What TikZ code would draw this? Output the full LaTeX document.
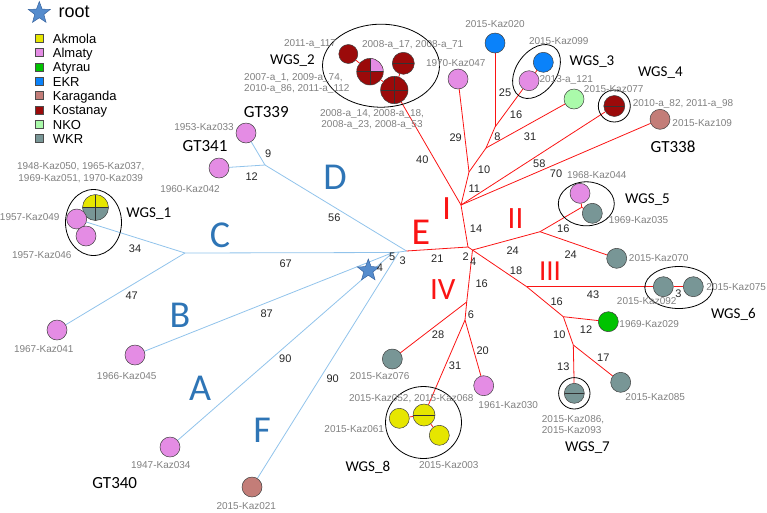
\documentclass[tikz,border=0pt]{standalone}
\usepackage{fontspec}
\setmainfont{Liberation Sans}
\newfontfamily\carl{Carlito}
\usetikzlibrary{shapes.geometric}
\pgfdeclarelayer{bg}
\pgfsetlayers{bg,main}
\definecolor{cAkm}{RGB}{230,230,0}
\definecolor{cAlm}{RGB}{228,140,228}
\definecolor{cAty}{RGB}{0,195,0}
\definecolor{cEkr}{RGB}{10,130,250}
\definecolor{cKar}{RGB}{195,125,120}
\definecolor{cKos}{RGB}{155,10,10}
\definecolor{cNko}{RGB}{170,250,170}
\definecolor{cWkr}{RGB}{120,150,150}
\definecolor{bline}{RGB}{145,195,235}
\definecolor{rline}{RGB}{250,20,20}
\definecolor{bigblue}{RGB}{46,117,182}
\definecolor{lblgray}{RGB}{128,128,128}
\definecolor{starfill}{RGB}{85,140,205}
\definecolor{stardraw}{RGB}{55,100,160}
\begin{document}
\begin{tikzpicture}[x=1pt,y=-1pt,
 nd/.style={circle,draw=black!75,line width=0.5pt,minimum size=20pt,inner sep=0pt},
 akm/.style={nd,fill=cAkm}, alm/.style={nd,fill=cAlm}, aty/.style={nd,fill=cAty},
 ekr/.style={nd,fill=cEkr}, kar/.style={nd,fill=cKar}, kos/.style={nd,fill=cKos},
 nko/.style={nd,fill=cNko}, wkr/.style={nd,fill=cWkr},
 hsplit/.style={path picture={\draw[black!80,line width=0.5pt] (path picture bounding box.west) -- (path picture bounding box.east);}},
 crossq/.style={path picture={\draw[black!80,line width=0.5pt] (path picture bounding box.west) -- (path picture bounding box.east) (path picture bounding box.north) -- (path picture bounding box.south);}},
 pinkq/.style={path picture={\fill[cAlm] (path picture bounding box.center) rectangle (path picture bounding box.north east);
   \draw[black!80,line width=0.5pt] (path picture bounding box.west) -- (path picture bounding box.east) (path picture bounding box.north) -- (path picture bounding box.south);}},
 yellowtop/.style={path picture={\fill[cAkm] (path picture bounding box.west) rectangle (path picture bounding box.north east);
   \draw[black!80,line width=0.5pt] (path picture bounding box.west) -- (path picture bounding box.east) (path picture bounding box.north) -- (path picture bounding box.south);}},
 ring/.style={circle,draw=black,line width=0.8pt,inner sep=0pt},
 grpell/.style={ellipse,draw=black,line width=0.8pt,inner sep=0pt},
 bl/.style={draw=bline,line width=0.8pt},
 rl/.style={draw=rline,line width=0.8pt},
 lbl/.style={text=lblgray,font=\fontsize{10}{11.7}\selectfont,inner sep=0pt,anchor=base,yshift=-3.6pt},
 lblm/.style={text=lblgray,font=\fontsize{10}{11.3}\selectfont,inner sep=0pt,align=center},
 el/.style={text=black!85,font=\fontsize{11}{11}\selectfont,inner sep=0pt},
 grp/.style={font=\carl\fontsize{15}{15}\selectfont,inner sep=0pt,anchor=base,yshift=-4.8pt},
 gt/.style={font=\carl\fontsize{17}{17}\selectfont,inner sep=0pt},
 bb/.style={font=\carl\fontsize{38}{38}\selectfont,text=bigblue,inner sep=0pt},
 br/.style={font=\carl\fontsize{34}{34}\selectfont,text=rline,inner sep=0pt},
 sq/.style={rectangle,draw=black!70,line width=0.5pt,minimum size=8pt,inner sep=0pt},
 lg/.style={font=\fontsize{13}{13}\selectfont,anchor=base west,inner sep=0pt,yshift=-4.7pt},
 rootstar/.style={star,star points=5,star point ratio=2.4,fill=starfill,draw=stardraw,line width=0.5pt,minimum size=23pt,inner sep=0pt}
]
\useasboundingbox (0,0) rectangle (767,512);
% ---------- legend ----------
\node[rootstar] (lstar) at (39.3,13) {};
\node[font=\fontsize{18}{18}\selectfont,anchor=base west,inner sep=0pt] (lroot) at (58.5,17) {root};
\node[sq,fill=cAkm] (sq1) at (39,38.3) {}; \node[lg] (lg1) at (52.7,38.3) {Akmola};
\node[sq,fill=cAlm] (sq2) at (39,52.7) {}; \node[lg] (lg2) at (52.7,52.7) {Almaty};
\node[sq,fill=cAty] (sq3) at (39,67) {};   \node[lg] (lg3) at (52.7,67) {Atyrau};
\node[sq,fill=cEkr] (sq4) at (39,81.3) {}; \node[lg] (lg4) at (52.7,81.3) {EKR};
\node[sq,fill=cKar] (sq5) at (39,95.7) {}; \node[lg] (lg5) at (52.7,95.7) {Karaganda};
\node[sq,fill=cKos] (sq6) at (39,110) {};  \node[lg] (lg6) at (52.7,110) {Kostanay};
\node[sq,fill=cNko] (sq7) at (39,124.3) {};\node[lg] (lg7) at (52.7,124.3) {NKO};
\node[sq,fill=cWkr] (sq8) at (39,138.6) {};\node[lg] (lg8) at (52.7,138.6) {WKR};
% ---------- branch points ----------
\coordinate (cD) at (265,165);
\coordinate (cC) at (185,253);
\coordinate (H) at (406.5,251);
\coordinate (Q) at (393,252.5);
\coordinate (Q2) at (399,252);
\coordinate (R1) at (468,247);
\coordinate (R2) at (472.5,250);
\coordinate (cI) at (461,205);
\coordinate (P11) at (469,172);
\coordinate (P10) at (486,148);
\coordinate (P8) at (495,127);
\coordinate (PII) at (540,231.7);
\coordinate (J5) at (581.7,207.3);
\coordinate (PIII) at (526.7,286.7);
\coordinate (P16) at (563.3,316.7);
\coordinate (P10b) at (573.3,345);
\coordinate (PIV) at (466.7,302);
\coordinate (P6) at (465,320);
% ---------- blue side nodes ----------
\node[alm] (n1947) at (170,447) {};
\node[kar] (n021) at (252,487) {};
\node[alm] (n1966) at (135,355) {};
\node[alm] (n1967) at (57,330) {};
\node[alm] (n1953) at (246,133) {};
\node[alm] (n1960) at (219,168) {};
\node[nd,fill=cWkr,yellowtop,minimum size=26pt] (nyg) at (95.5,207.5) {};
\node[alm] (n049) at (76.7,219) {};
\node[alm] (n046) at (86,236) {};
\node[grpell,minimum width=56pt,minimum height=66pt] (g1) at (93.5,222.5) {};
\node[rootstar] (root) at (368.3,270.5) {};
% ---------- WGS_2 ----------
\node[kos,minimum size=19pt] (a117) at (348.3,54) {};
\node[kos,pinkq,minimum size=26.6pt] (cr) at (370,71.7) {};
\node[kos,hsplit,minimum size=22pt] (a17) at (403.3,63.3) {};
\node[kos,crossq,minimum size=27.4pt] (a14) at (394.3,90) {};
\node[grpell,minimum width=117pt,minimum height=83pt] (g2) at (381,65.7) {};
% ---------- I cluster ----------
\node[alm] (n047) at (458,79) {};
\node[ekr] (n020) at (495,43) {};
\node[ekr] (n099) at (543.3,62.3) {};
\node[alm] (n121) at (529,80.7) {};
\node[grpell,minimum width=60pt,minimum height=40pt,rotate=54] (g3) at (536.5,71.5) {};
\node[nko] (n077) at (574,99) {};
\node[kos,hsplit,minimum size=21pt] (w4) at (614.3,106) {};
\node[ring,minimum size=32pt] (g4) at (614.3,106) {};
\node[kar] (n109) at (660,119.3) {};
% ---------- II ----------
\node[alm] (n044) at (580,193.3) {};
\node[wkr] (n035) at (592.3,213.3) {};
\node[grpell,minimum width=56pt,minimum height=44pt] (g5) at (586.3,203.8) {};
\node[wkr] (n070) at (616.7,258.3) {};
% ---------- III ----------
\node[wkr] (n092) at (663.3,286.7) {};
\node[wkr] (n075) at (693.3,286.7) {};
\node[grpell,minimum width=68pt,minimum height=42pt] (g6) at (678.8,287.5) {};
\node[aty] (n029) at (608.3,321.7) {};
\node[wkr,hsplit] (w7) at (574.3,393.3) {};
\node[ring,minimum size=31.4pt] (g7) at (574.3,393.3) {};
\node[wkr] (n085) at (620.7,382.3) {};
% ---------- IV ----------
\node[wkr] (n076) at (392.3,359) {};
\node[alm] (n030) at (483.7,385.7) {};
\node[akm] (n061) at (399.3,418.3) {};
\node[akm,hsplit,minimum size=22pt] (w8s) at (424,415) {};
\node[akm] (n003) at (439.3,435.3) {};
\node[grpell,minimum width=76pt,minimum height=72pt] (g8) at (423.5,422.5) {};
% ---------- connectors ----------
\begin{pgfonlayer}{bg}
\draw[bl] (cC) -- (n049);
\draw[bl] (cC) -- (n1967);
\draw[bl] (cC) -- (Q);
\draw[bl] (n1966) -- (Q);
\draw[bl] (n1947) -- (Q);
\draw[bl] (n021) -- (Q2);
\draw[bl] (Q) -- (Q2) -- (H);
\draw[bl] (cD) -- (H);
\draw[bl] (cD) -- (n1953);
\draw[bl] (cD) -- (n1960);
\draw[rl] (H) -- (R1);
\draw[rl] (R1) -- (cI);
\draw[rl] (R1) -- (R2);
\draw[rl] (cI) -- (a14);
\draw[rl] (a117) -- (cr);
\draw[rl] (cr) -- (a14);
\draw[rl] (a17) -- (a14);
\draw[rl] (cI) -- (P11);
\draw[rl] (P11) -- (n047);
\draw[rl] (P11) -- (P10);
\draw[rl] (P10) -- (P8);
\draw[rl] (P8) -- (n020);
\draw[rl] (P8) -- (n121);
\draw[rl] (n121) -- (n099);
\draw[rl] (P10) -- (n077);
\draw[rl] (cI) -- (w4);
\draw[rl] (cI) -- (n109);
\draw[rl] (R2) -- (PII);
\draw[rl] (PII) -- (J5);
\draw[rl] (J5) -- (n044);
\draw[rl] (J5) -- (n035);
\draw[rl] (PII) -- (n070);
\draw[rl] (R2) -- (PIII);
\draw[rl] (PIII) -- (n092);
\draw[rl] (n092) -- (n075);
\draw[rl] (PIII) -- (P16);
\draw[rl] (P16) -- (n029);
\draw[rl] (P16) -- (P10b);
\draw[rl] (P10b) -- (w7);
\draw[rl] (P10b) -- (n085);
\draw[rl] (R2) -- (PIV);
\draw[rl] (PIV) -- (n076);
\draw[rl] (PIV) -- (P6);
\draw[rl] (P6) -- (w8s);
\draw[rl] (w8s) -- (n061);
\draw[rl] (w8s) -- (n003);
\draw[rl] (P6) -- (n030);
\end{pgfonlayer}
% ---------- edge labels ----------
\node[el] (e34) at (135,249) {34};
\node[el] (e47) at (131.7,295.7) {47};
\node[el] (e9) at (268.3,154) {9};
\node[el] (e12a) at (251.7,176.7) {12};
\node[el] (e56) at (334.3,217.7) {56};
\node[el] (e67) at (285.7,263.3) {67};
\node[el] (e87) at (266.7,313.3) {87};
\node[el] (e90a) at (285.3,358.3) {90};
\node[el] (e90b) at (332.7,378.3) {90};
\node[el] (e5) at (392.3,256.7) {5};
\node[el] (e3a) at (402.7,260.5) {3};
\node[el] (e4a) at (380,267.3) {4};
\node[el] (e21) at (437.3,258.3) {21};
\node[el] (e2) at (465.7,256.7) {2};
\node[el] (e4b) at (473.3,261.7) {4};
\node[el] (e14) at (476,229) {14};
\node[el] (e11) at (474.3,188.3) {11};
\node[el] (e10a) at (484,170) {10};
\node[el] (e29) at (455.7,137.7) {29};
\node[el] (e40) at (422.3,159.3) {40};
\node[el] (e8) at (497.3,136.7) {8};
\node[el] (e31a) at (530,136.7) {31};
\node[el] (e25) at (505,92.7) {25};
\node[el] (e16a) at (516,115) {16};
\node[el] (e58) at (539.3,164) {58};
\node[el] (e70) at (556,174) {70};
\node[el] (e24a) at (512.7,251) {24};
\node[el] (e16b) at (563.3,229) {16};
\node[el] (e24b) at (570.7,254.3) {24};
\node[el] (e18) at (516,271) {18};
\node[el] (e43) at (593,295) {43};
\node[el] (e3b) at (678.3,294) {3};
\node[el] (e16c) at (556.7,301.7) {16};
\node[el] (e12b) at (586,329.3) {12};
\node[el] (e10b) at (559.3,334.3) {10};
\node[el] (e13) at (563.3,366.7) {13};
\node[el] (e17) at (603.3,357.3) {17};
\node[el] (e16d) at (481.7,283.3) {16};
\node[el] (e6) at (471,314.3) {6};
\node[el] (e28) at (438,335) {28};
\node[el] (e31b) at (455,366) {31};
\node[el] (e20) at (482.7,350.7) {20};
% ---------- gray labels ----------
\node[lblm] (l1948) at (80.7,172.7) {1948-Kaz050, 1965-Kaz037,\\1969-Kaz051, 1970-Kaz039};
\node[lbl] (l049) at (29.7,217) {1957-Kaz049};
\node[lbl] (l046) at (41.8,255.3) {1957-Kaz046};
\node[lbl] (l1953) at (204,127) {1953-Kaz033};
\node[lbl] (l1960) at (190,189.3) {1960-Kaz042};
\node[lbl] (l1967) at (43.8,349.3) {1967-Kaz041};
\node[lbl] (l1966) at (126.7,376) {1966-Kaz045};
\node[lbl] (l1947) at (160.8,465) {1947-Kaz034};
\node[lbl] (l021) at (246.3,506) {2015-Kaz021};
\node[lbl] (l117) at (310,43.3) {2011-a\_117};
\node[lbl] (l17) at (412.7,44.3) {2008-a\_17, 2008-a\_71};
\node[lblm,align=left,anchor=west,font=\fontsize{10}{11}\selectfont] (l2007) at (244,83) {2007-a\_1, 2009-a\_74,\\2010-a\_86, 2011-a\_112};
\node[lblm] (l14) at (372,119.2) {2008-a\_14, 2008-a\_18,\\2008-a\_23, 2008-a\_53};
\node[lbl] (l047) at (455.8,63.3) {1970-Kaz047};
\node[lbl] (l020) at (495,24) {2015-Kaz020};
\node[lbl] (l099) at (558.8,40.7) {2015-Kaz099};
\node[lbl] (l121) at (566.3,79) {2013-a\_121};
\node[lbl] (l077) at (613.7,89.3) {2015-Kaz077};
\node[lbl] (l82) at (683,102.7) {2010-a\_82, 2011-a\_98};
\node[lbl] (l109) at (702.2,122.7) {2015-Kaz109};
\node[lbl] (l044) at (596.8,175) {1968-Kaz044};
\node[lbl] (l035) at (638.5,220) {1969-Kaz035};
\node[lbl] (l070) at (658.7,258.3) {2015-Kaz070};
\node[lbl] (l092) at (646.7,300.7) {2015-Kaz092};
\node[lbl] (l075) at (736.2,286.7) {2015-Kaz075};
\node[lbl] (l029) at (649.2,324.3) {1969-Kaz029};
\node[lbl] (l085) at (655.2,396.7) {2015-Kaz085};
\node[lblm,align=left,anchor=west] (l086) at (541.7,424.7) {2015-Kaz086,\\2015-Kaz093};
\node[lbl] (l076) at (379.7,376) {2015-Kaz076};
\node[lbl] (l052) at (411.3,397.7) {2015-Kaz052, 2015-Kaz068};
\node[lbl] (l030) at (508.2,405) {1961-Kaz030};
\node[lbl] (l061) at (354.2,429.3) {2015-Kaz061};
\node[lbl] (l003) at (448.8,465) {2015-Kaz003};
% ---------- group labels ----------
\node[grp] (t1) at (148.8,213) {WGS\_1};
\node[grp] (t2) at (292.5,60) {WGS\_2};
\node[grp] (t3) at (592,60.7) {WGS\_3};
\node[grp] (t4) at (660.3,72) {WGS\_4};
\node[grp] (t5) at (647.5,198.3) {WGS\_5};
\node[grp] (t6) at (733.3,313.3) {WGS\_6};
\node[grp] (t7) at (587.5,446.7) {WGS\_7};
\node[grp] (t8) at (367.8,466.7) {WGS\_8};
\node[gt] (gt339) at (266.3,111.7) {GT339};
\node[gt] (gt341) at (205,145.7) {GT341};
\node[gt] (gt340) at (114.7,483.3) {GT340};
\node[gt] (gt338) at (673,146.7) {GT338};
% ---------- clade letters ----------
\node[bb] (bD) at (335,177.5) {D};
\node[bb] (bC) at (220,235) {C};
\node[bb] (bB) at (180,315) {B};
\node[bb] (bA) at (200,388) {A};
\node[bb] (bF) at (262,430) {F};
\node[br,font=\carl\fontsize{38}{38}\selectfont] (rE) at (421,232.5) {E};
\node[br] (rI) at (446.7,208.3) {I};
\node[br,font=\carl\fontsize{31}{31}\selectfont] (rII) at (515.5,218.3) {II};
\node[br,font=\carl\fontsize{29}{29}\selectfont] (rIII) at (550,271) {III};
\node[br,font=\carl\fontsize{31}{31}\selectfont] (rIV) at (442.8,290) {IV};
\end{tikzpicture}
\end{document}
